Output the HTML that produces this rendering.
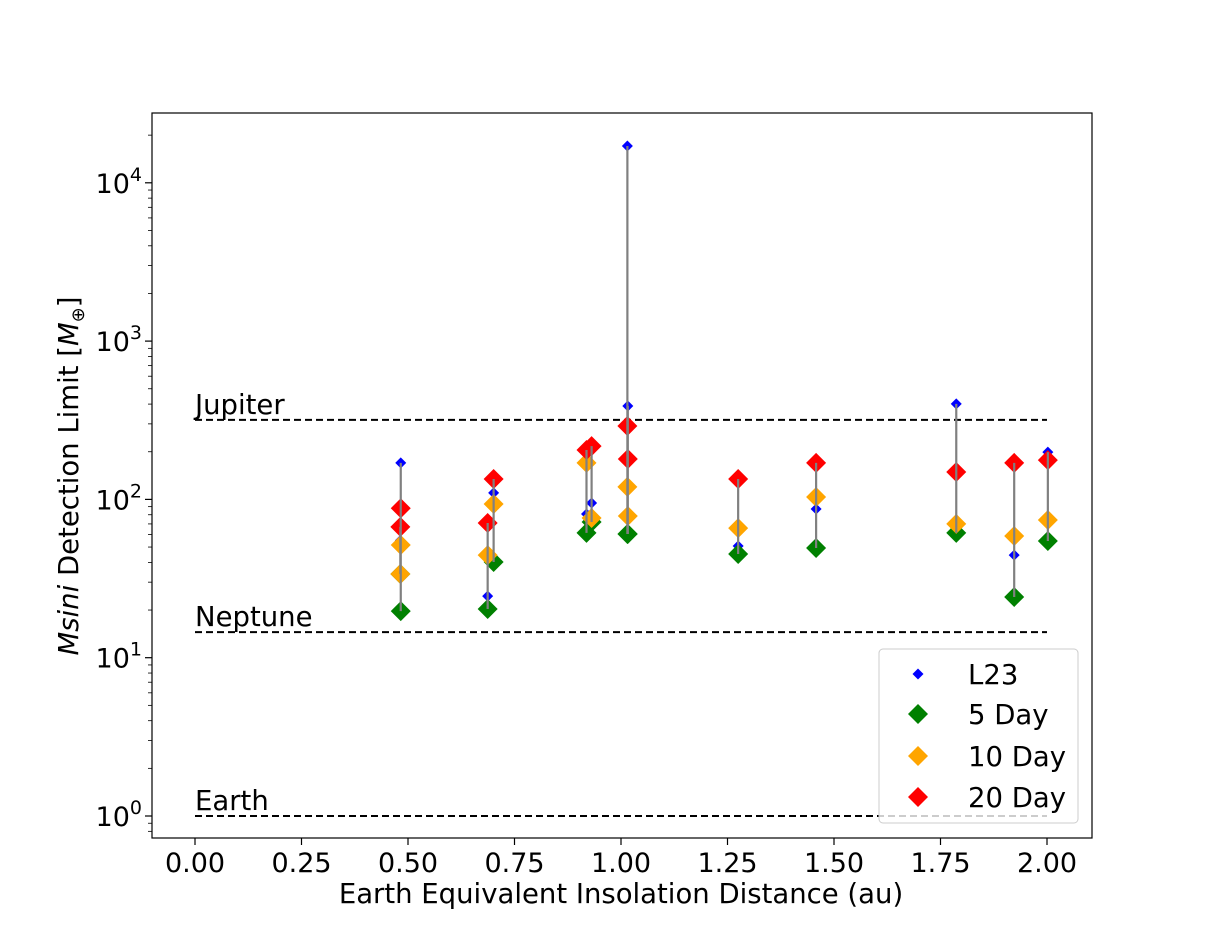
<!DOCTYPE html>
<html><head><meta charset="utf-8"><style>
body{margin:0;background:#fff}
svg text{font-family:"DejaVu Sans","Liberation Sans",sans-serif;fill:#000}
</style></head><body>
<svg id="chart" width="1213" height="942" xmlns="http://www.w3.org/2000/svg">
<rect x="0" y="0" width="1213" height="942" fill="#fff"/>
<g id="plot"></g>
</svg>
<script>
const starX = [0.483,0.482,0.687,0.701,0.919,0.931,1.015,1.016,1.275,1.458,1.787,1.923,2.002];
const l23 = [170,55,24.5,110,80.9,94.9,17070,389,50.8,87,401,44.5,199];
const day5 = [19.7,33.8,20.3,40.2,61.4,72,60.5,60.5,45.2,49.3,61.4,24.2,54.6];
const day10 = [51.5,33.8,44.5,93.5,170,76.3,120,78.5,65.9,103.5,70,58.7,74.1];
const day20 = [88,67,71,134.5,205,217,291,180,134.5,170,149,170,177];
const refNames = ["Jupiter","Neptune","Earth"];
const refMass = [317.8,14.5,1];
const xTicks = [0,0.25,0.5,0.75,1.0,1.25,1.5,1.75,2.0];
const xTickLabels = ["0.00","0.25","0.50","0.75","1.00","1.25","1.50","1.75","2.00"];
const yTicks = [1,10,100,1000,10000];
const yTickExp = ["0","1","2","3","4"];

const NS="http://www.w3.org/2000/svg";
const g=document.getElementById('plot');
const L=152,R=1092,T=113,B=838;
const xs=v=>195+v*426;
const ys=v=>816-Math.log10(v)*158.3;
function mk(tag,attrs,parent){const e=document.createElementNS(NS,tag);for(const k in attrs)e.setAttribute(k,attrs[k]);(parent||g).appendChild(e);return e;}
function diamond(cx,cy,r,color,parent){return mk('polygon',{points:`${cx},${cy-r} ${cx+r},${cy} ${cx},${cy+r} ${cx-r},${cy}`,fill:color},parent);}

refNames.forEach((n,i)=>{
  const y=ys(refMass[i]);
  const ln=mk('line',{x1:xs(0),x2:xs(2),y1:y,y2:y,stroke:'#000','stroke-width':2,'stroke-dasharray':'7,4'});
  
  
  const t=mk('text',{x:xs(0),y:y-6,'font-size':27.5});
  t.textContent=n;
  
  
});

const series=[[l23,'#0000ff',5.5,'l23'],[day5,'#008000',10,'5day'],[day10,'#ffa500',10,'10day'],[day20,'#ff0000',10,'20day']];
series.forEach(s=>{
  s[0].forEach((v,i)=>{
    const d=diamond(xs(starX[i]),ys(v),s[2],s[1]);
    
    
  });
});
starX.forEach((x,i)=>{
  const vals=[l23[i],day5[i],day10[i],day20[i]];
  const ln=mk('line',{x1:xs(x),x2:xs(x),y1:ys(Math.max(...vals)),y2:ys(Math.min(...vals)),stroke:'#808080','stroke-width':2.2});
  
  
});

const fr=mk('rect',{x:L,y:T,width:R-L,height:B-T,fill:'none',stroke:'#000','stroke-width':1.2});



xTicks.forEach((v,i)=>{
  const x=xs(v);
  mk('line',{x1:x,x2:x,y1:B,y2:B+7,stroke:'#000','stroke-width':1.2});
  const t=mk('text',{x:x,y:B+34,'font-size':27,'text-anchor':'middle'});
  t.textContent=xTickLabels[i];
  
  
});
yTicks.forEach((v,i)=>{
  const y=ys(v);
  mk('line',{x1:L-7,x2:L,y1:y,y2:y,stroke:'#000','stroke-width':1.2});
  const t=mk('text',{x:L-10,y:y+10,'font-size':27,'text-anchor':'end'});
  t.innerHTML='10<tspan dy="-12" font-size="19">'+yTickExp[i]+'</tspan>';
  
  
});
for(let d=-1;d<5;d++){for(let m=2;m<10;m++){const v=m*Math.pow(10,d);const y=ys(v);if(y<T||y>B)continue;mk('line',{x1:L-4,x2:L,y1:y,y2:y,stroke:'#000','stroke-width':0.8});}}

const xt=mk('text',{x:621,y:903,'font-size':27.5,'text-anchor':'middle'},document.getElementById('chart'));
xt.textContent='Earth Equivalent Insolation Distance (au)';


const yt=mk('text',{x:0,y:0,'font-size':27.5,'text-anchor':'middle',transform:'translate(78,476) rotate(-90)'},document.getElementById('chart'));
yt.innerHTML='<tspan font-style="italic">Msini</tspan> Detection Limit [<tspan font-style="italic">M</tspan><tspan font-size="18" dy="6">⊕</tspan><tspan dy="-6">]</tspan>';



const lg=mk('g',{});


mk('rect',{x:879,y:649,width:199,height:174,rx:4,fill:'#fff','fill-opacity':0.8,stroke:'#ccc','stroke-width':1},lg);
const legNames=['L23','5 Day','10 Day','20 Day'];
const legY=[674,714,756,797];
series.forEach((s,i)=>{
  const d=diamond(918,legY[i],s[2],s[1],lg);
  
  
  const t=mk('text',{x:968,y:legY[i]+10,'font-size':27.5},lg);
  t.textContent=legNames[i];
  
  
});
</script>
</body></html>
